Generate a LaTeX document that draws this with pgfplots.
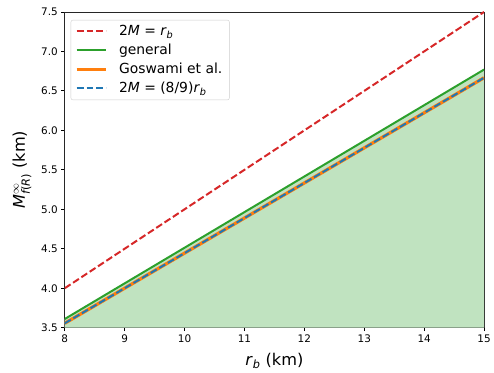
\documentclass[border=0pt]{standalone}
\usepackage{amsmath}
\usepackage{pgfplots}
\pgfplotsset{compat=1.18}
\usepackage{fontspec}
\setmainfont{DejaVu Sans}
\usetikzlibrary{calc}

\definecolor{mplred}{HTML}{D62728}
\definecolor{mplgreen}{HTML}{2CA02C}
\definecolor{mplorange}{HTML}{FF7F0E}
\definecolor{mplblue}{HTML}{1F77B4}
\definecolor{fillgreen}{HTML}{C0E3C0}

\newcommand{\rb}{\textit{r}$_{\text{\itshape b}}$}
\newcommand{\legfont}{\fontsize{14}{16}\selectfont}
\newcommand{\labfont}{\fontsize{16.3}{19}\selectfont}

\begin{document}
\begin{tikzpicture}
\begin{axis}[
  scale only axis,
  width=421bp, height=317bp,
  xmin=8, xmax=15, ymin=3.5, ymax=7.5,
  xtick={8,9,...,15},
  ytick={3.5,4.0,...,7.5},
  yticklabel style={/pgf/number format/.cd, fixed, fixed zerofill, precision=1},
  /pgf/number format/assume math mode=true,
  tick label style={font=\fontsize{10.5}{12}\selectfont},
  tick align=outside,
  tick pos=left,
  major tick length=3.5bp,
  axis line style={black!85, line width=0.8bp},
  every tick/.style={black, line width=0.8bp},
  xlabel={\labfont \rb{} (km)},
  ylabel={\labfont \textit{M}$^{\infty}_{\text{\itshape f}\text{(}\text{\itshape R}\text{)}}$ (km)},
  xlabel style={yshift=-4bp},
  ylabel style={yshift=3bp},
  legend style={
    at={(rel axis cs:0,1)}, anchor=north west,
    xshift=6bp, yshift=-8bp,
    draw=black!20, rounded corners=2bp,
    font=\legfont,
    nodes={font=\legfont, inner xsep=3bp, inner ysep=1.5bp},
    row sep=4bp, column sep=8bp, inner xsep=4bp, inner ysep=4bp,
    legend cell align=left,
  },
  legend image code/.code={\draw[#1] (0bp,0bp) -- (30bp,0bp);},
]
% shaded region under the general curve
\addplot[draw=none, fill=fillgreen, forget plot] coordinates {(8,3.61) (15,6.77)} \closedcycle;

\addplot[mplred, line width=2bp, dash pattern=on 7bp off 3bp] coordinates {(8,4.0) (15,7.5)};
\addlegendentry{2\textit{M} = \rb}

\addplot[mplgreen, line width=2bp] coordinates {(8,3.61) (15,6.77)};
\addlegendentry{general}

\addplot[mplorange, line width=3.3bp] coordinates {(8,3.5556) (15,6.6667)};
\addlegendentry{Goswami et al.}

\addplot[mplblue, line width=2bp, dash pattern=on 7bp off 3bp] coordinates {(8,3.5556) (15,6.6667)};
\addlegendentry{2\textit{M} = (8/9)\rb}
\end{axis}
\path ($(current axis.south west)+(-65bp,-45bp)$) rectangle ($(current axis.north east)+(8bp,12bp)$);
\end{tikzpicture}
\end{document}
